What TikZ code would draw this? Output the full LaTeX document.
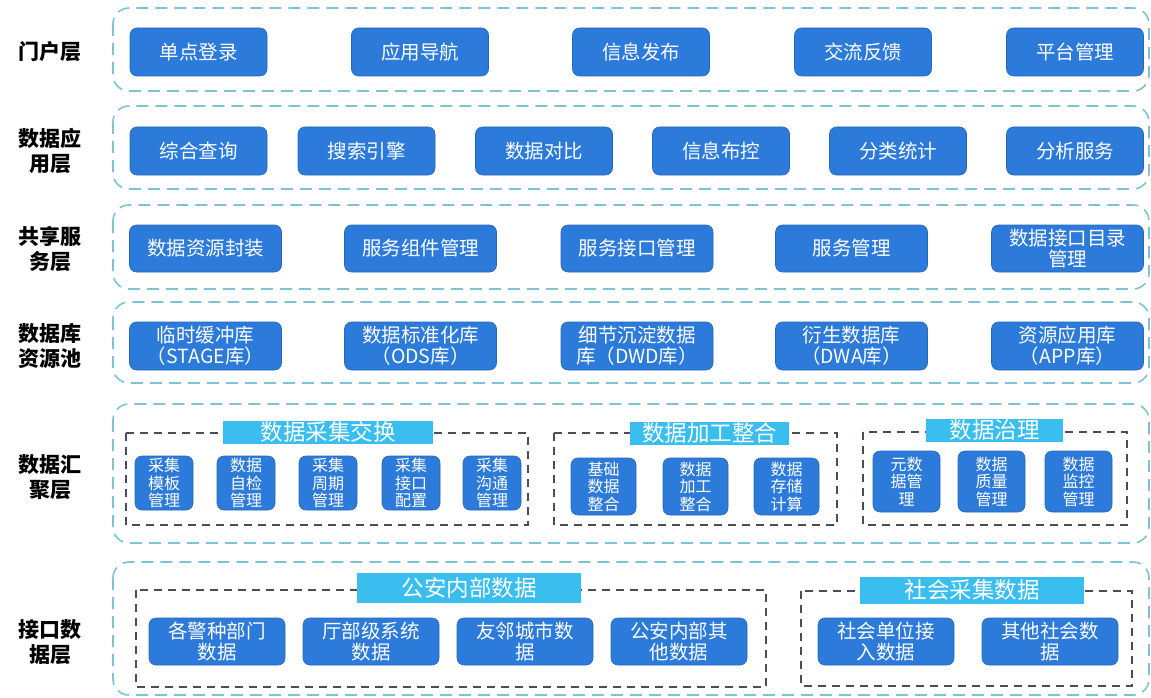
\documentclass[tikz,border=0pt]{standalone}
\usepackage{fontspec}
\setmainfont{Noto Sans CJK SC}
\definecolor{btnblue}{RGB}{44,122,218}
\definecolor{ttlblue}{RGB}{58,190,240}
\definecolor{laycol}{RGB}{125,195,212}
\definecolor{grpcol}{RGB}{75,78,88}
\tikzset{every picture/.style={line width=0.75pt}}
\tikzset{
  layer/.style={draw=laycol, line width=1.6pt, dash pattern=on 12pt off 7pt, rounded corners=16pt},
  grp/.style={draw=grpcol, line width=1.6pt, dash pattern=on 8pt off 6pt},
  btn/.style={fill=btnblue, draw=btnblue!85!black, line width=0.6pt, rounded corners=7pt, text=white, align=center, inner sep=1pt, font=\fontsize{19.5}{21}\selectfont},
  sbtn/.style={btn, font=\fontsize{16}{17.5}\selectfont},
  ttl/.style={fill=ttlblue, text=white, inner sep=0pt, font=\fontsize{22.5}{24}\selectfont},
  lbl/.style={align=center, font=\fontsize{21}{25}\selectfont\bfseries}
}

\begin{document}
\begin{tikzpicture}[x=1pt,y=1pt,yscale=-1]
\useasboundingbox (0,0) rectangle (1151,698);

%Layers (dashed rounded frames)
\draw [layer] (113,8) rectangle (1149,91);
\draw [layer] (113,106) rectangle (1149,189);
\draw [layer] (113,205) rectangle (1149,289);
\draw [layer] (113,302) rectangle (1149,383);
\draw [layer] (113,404) rectangle (1149,543);
\draw [layer] (113,562) rectangle (1149,695);

% Layer titles
\node [lbl] (lportal) at (50,52) {门户层};
\node [lbl] (lapp) at (50,151) {数据应\\用层};
\node [lbl] (lshare) at (50,249) {共享服\\务层};
\node [lbl] (ldb) at (50,346) {数据库\\资源池};
\node [lbl] (lgather) at (50,477) {数据汇\\聚层};
\node [lbl] (liface) at (50,642) {接口数\\据层};

%Portal layer
\foreach \cx/\txt [count=\i] in {198.5/单点登录, 420/应用导航, 641/信息发布, 863/交流反馈, 1075/平台管理}
  \node [btn, minimum width=137pt, minimum height=48pt] (portal\i) at (\cx,52) {\txt};

%Data application layer
\foreach \cx/\txt [count=\i] in {198.5/综合查询, 366.5/搜索引擎, 544/数据对比, 721/信息布控, 898/分类统计, 1075/分析服务}
  \node [btn, minimum width=137pt, minimum height=48pt] (app\i) at (\cx,151) {\txt};

%Shared service layer
\foreach \cx/\txt [count=\i] in {205.5/数据资源封装, 420.5/服务组件管理, 637/服务接口管理, 851.5/服务管理, 1067.5/{数据接口目录\\管理}}
  \node [btn, minimum width=152pt, minimum height=47pt] (share\i) at (\cx,248.5) {\txt};

%Database resource pool
\foreach \cx/\txt [count=\i] in {205.5/{临时缓冲库\\（STAGE库）}, 420.5/{数据标准化库\\（ODS库）}, 637/{细节沉淀数据\\库（DWD库）}, 851.5/{衍生数据库\\（DWA库）}, 1067.5/{资源应用库\\（APP库）}}
  \node [btn, minimum width=152pt, minimum height=48pt] (db\i) at (\cx,346) {\txt};

%Gathering layer: groups
\draw [grp] (126,433) rectangle (528,525);
\draw [grp] (554,433) rectangle (837,525);
\draw [grp] (863,432) rectangle (1127,525);
\node [ttl, minimum width=210pt, minimum height=23pt] (tcollect) at (328,432) {数据采集交换};
\node [ttl, minimum width=159pt, minimum height=23pt] (tprocess) at (709.5,433) {数据加工整合};
\node [ttl, minimum width=137pt, minimum height=23pt] (tgovern) at (994.5,430) {数据治理};

\foreach \cx/\txt [count=\i] in {164/{采集\\模板\\管理}, 246/{数据\\自检\\管理}, 328/{采集\\周期\\管理}, 411/{采集\\接口\\配置}, 492/{采集\\沟通\\管理}}
  \node [sbtn, minimum width=58pt, minimum height=54pt] (coll\i) at (\cx,483) {\txt};
\foreach \cx/\txt [count=\i] in {603.5/{基础\\数据\\整合}, 695.5/{数据\\加工\\整合}, 786.5/{数据\\存储\\计算}}
  \node [sbtn, minimum width=65pt, minimum height=57pt] (proc\i) at (\cx,486.5) {\txt};
\foreach \cx/\txt [count=\i] in {906.5/{元数\\据管\\理}, 991.5/{数据\\质量\\管理}, 1078.5/{数据\\监控\\管理}}
  \node [sbtn, minimum width=67pt, minimum height=61pt] (gov\i) at (\cx,481.5) {\txt};

%Interface layer: groups
\draw [grp] (136,590) rectangle (766,687);
\draw [grp] (801,591) rectangle (1132,686);
\node [ttl, minimum width=224pt, minimum height=30pt] (tpolice) at (469,588) {公安内部数据};
\node [ttl, minimum width=224pt, minimum height=27pt] (tsocial) at (972,590) {社会采集数据};

\foreach \cx/\txt [count=\i] in {217/{各警种部门\\数据}, 371/{厅部级系统\\数据}, 525/{友邻城市数\\据}, 679/{公安内部其\\他数据}}
  \node [btn, minimum width=136pt, minimum height=47pt] (pol\i) at (\cx,641.5) {\txt};
\foreach \cx/\txt [count=\i] in {886/{社会单位接\\入数据}, 1050/{其他社会数\\据}}
  \node [btn, minimum width=136pt, minimum height=47pt] (soc\i) at (\cx,641.5) {\txt};

\end{tikzpicture}
\end{document}
